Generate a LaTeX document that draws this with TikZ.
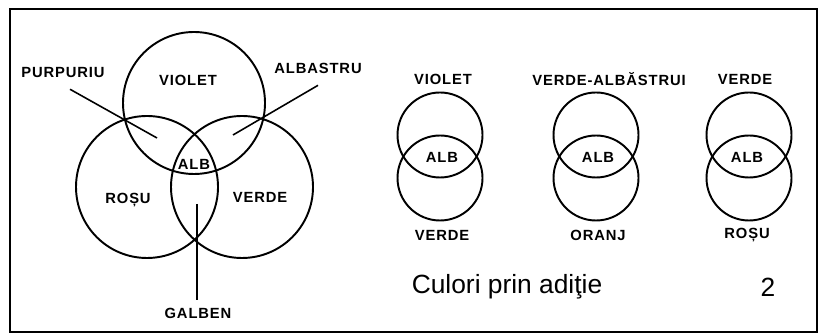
\documentclass[tikz,border=0pt]{standalone}
\usepackage{fontspec}
\setmainfont{Liberation Sans}
\newfontfamily\lblfont[LetterSpace=6]{Liberation Sans}
\usetikzlibrary{positioning}

\begin{document}
\begin{tikzpicture}[x=0.02cm, y=-0.02cm,
        ring/.style={line width=1.1pt},
        leader/.style={line width=0.9pt},
        lbl/.style={font=\lblfont\bfseries\fontsize{8.4}{9}\selectfont, inner sep=1pt}]
        \useasboundingbox (0,0) rectangle (820,333);
        % frame
        \draw[line width=0.9pt] (10,9) rectangle (817,332);
        % three big circles
        \coordinate (cv) at (194,103);
        \coordinate (cr) at (147,187);
        \coordinate (cg) at (242,187);
        \foreach \c in {cv,cr,cg}
        \draw[ring] (\c) circle[radius=71];
        % names in the big circles
        \node[lbl] (violet) at (188,80) {VIOLET};
        \node[lbl] (rosu) at (128,200) {ROȘU};
        \node[lbl] (verde) at (260,197) {VERDE};
        \node[lbl] (alb) at (194,164) {ALB};
        % mixed colours with leader lines
        \node[lbl] (purpuriu) at (63,73) {PURPURIU};
        \node[lbl] (albastru) at (318,68) {ALBASTRU};
        \node[lbl] (galben) at (198,313) {GALBEN};
        \coordinate (pTip) at (157,138);
        \coordinate (aTip) at (233,135);
        \coordinate (gTip) at (197,204);
        \draw[leader] ([shift={(7,9)}]purpuriu.south) -- (pTip);
        \draw[leader] ([shift={(0,10)}]albastru.south) -- (aTip);
        \draw[leader, shorten >=3pt] (gTip) -- (gTip |- galben.north);
        % pairs of circles
        \foreach \x/\ux/\upname/\dx/\downname/\id in
        {440/443/VIOLET/442/VERDE/a, 596/609/VERDE-ALBĂSTRUI/598/ORANJ/b, 749/745/VERDE/747/ROȘU/c}
        {
        \draw[ring] (\x,135) circle[radius=42.5];
        \draw[ring] (\x,178) circle[radius=42.5];
        \node[lbl] (up\id) at (\ux,79) {\upname};
        \node[lbl] (alb\id) at (\dx,157) {ALB};
        \node[lbl] (down\id) at (\dx,235) {\downname};
        }
        % caption
        \node[font=\fontsize{15}{18}\selectfont] (caption) at (507,287) {Culori prin adiţie};
        \node[font=\fontsize{15}{18}\selectfont] (nr) at (768,287) {2};
\end{tikzpicture}
\end{document}
